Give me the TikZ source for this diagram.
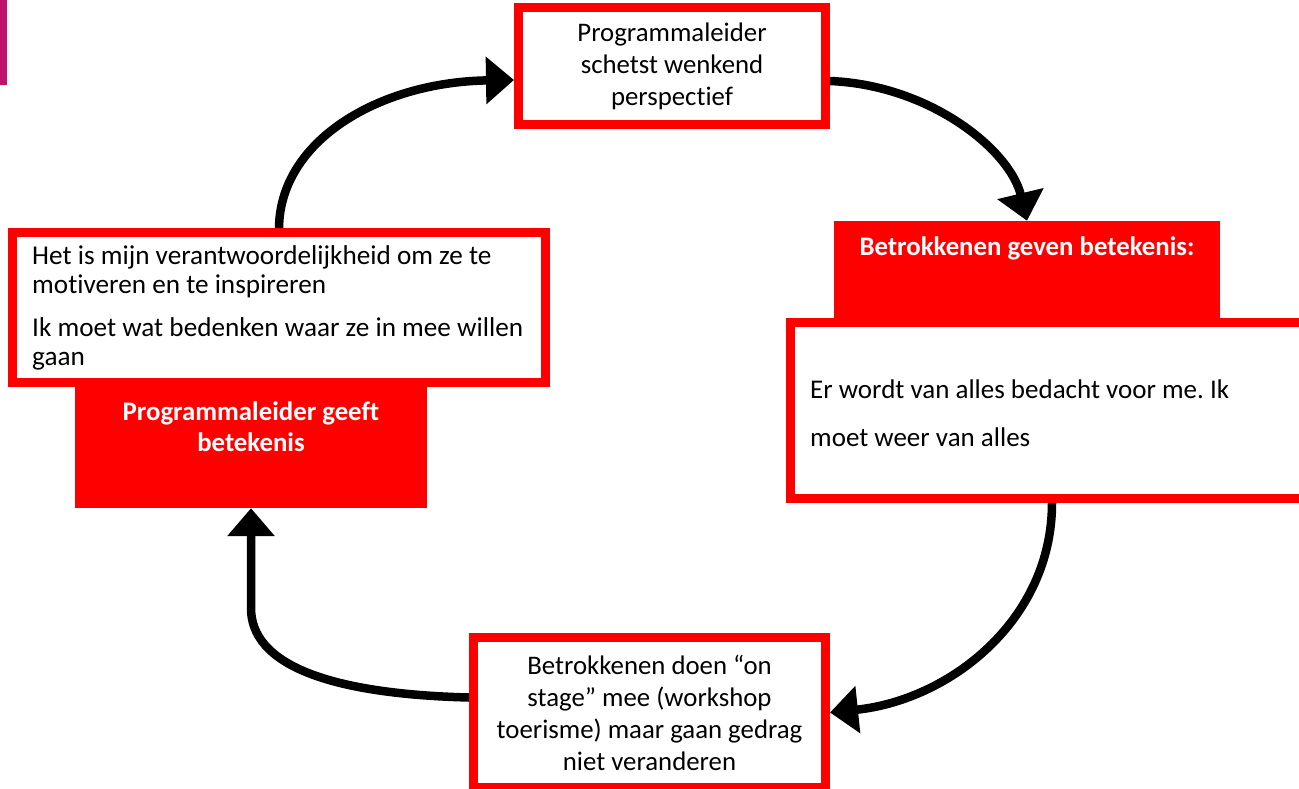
\documentclass[tikz,border=0pt]{standalone}
\usepackage{fontspec}
\setmainfont{Carlito}[Ligatures={NoCommon}]
\usetikzlibrary{arrows.meta,calc}
\definecolor{boxred}{HTML}{FF0000}
\definecolor{barmag}{HTML}{C0116B}
\frenchspacing
\begin{document}
\begin{tikzpicture}[x=1pt,y=-1pt,
  redbox/.style={draw=boxred, line width=9pt, fill=white, inner sep=0pt},
  redfill/.style={fill=boxred, inner sep=0pt},
  bigtxt/.style={font=\fontsize{26.8}{32}\selectfont, align=center},
  lefttxt/.style={font=\fontsize{27.2}{29}\selectfont, align=left, inner sep=0pt},
  linetxt/.style={font=\fontsize{27}{32}\selectfont, inner sep=0pt},
  headtxt/.style={font=\fontsize{26.8}{31}\selectfont\bfseries, text=white, align=center, inner sep=0pt},
  cyclearrow/.style={line width=8.5pt, -{Triangle[width=46pt,length=28pt]}},
]
\useasboundingbox (0,0) rectangle (1299,789);
\fill[barmag] (0,0) rectangle (7,85);

% top box
\node[redbox, bigtxt, minimum width=307pt, minimum height=117pt] (top) at (672,66)
  {Programmaleider\\schetst wenkend\\perspectief};

% right header + box
\node[redfill, minimum width=386pt, minimum height=102pt] (rhead) at (1027,272) {};
\node[redbox, minimum width=530pt, minimum height=176pt] (rbox) at (1055,410.5) {};
\node[headtxt, anchor=base] (rheadtxt) at (1027,255) {Betrokkenen geven betekenis:};
\node[linetxt, anchor=base west] (rtxta) at (810,398) {Er wordt van alles bedacht voor me. Ik};
\node[linetxt, anchor=base west] (rtxtb) at (810,446) {moet weer van alles};

% left header + box
\node[redfill, minimum width=352pt, minimum height=121pt] (lhead) at (251,447.5) {};
\node[redbox, minimum width=533pt, minimum height=150pt] (lbox) at (279,307.5) {};
\node[lefttxt, anchor=west] (ltxt) at (32,307.5)
  {Het is mijn verantwoordelijkheid om ze te\\motiveren en te inspireren\\[14pt]Ik moet wat bedenken waar ze in mee willen\\gaan};
\node[headtxt, anchor=north] (lheadtxt) at (251,401) {Programmaleider geeft\\betekenis};

% bottom box
\node[redbox, bigtxt, minimum width=352pt, minimum height=150pt] (bot) at (649.5,712.5)
  {Betrokkenen doen “on\\stage” mee (workshop\\toerisme) maar gaan gedrag\\niet veranderen};

% arrows
\draw[cyclearrow] (lbox.north) .. controls (280,140) and (380,82) .. ([yshift=-14pt]top.west);
\draw[cyclearrow] ([yshift=-15pt]top.east) .. controls (930,85) and (1010,150) .. (rhead.north);
\draw[cyclearrow] ([xshift=-3pt]rbox.south) .. controls (1052,620) and (950,700) .. (bot.east);
\draw[cyclearrow] ([yshift=15pt]bot.west) .. controls (330,694) and (250,665) .. (lhead.south |- 0,607) -- (lhead.south);
\end{tikzpicture}
\end{document}
